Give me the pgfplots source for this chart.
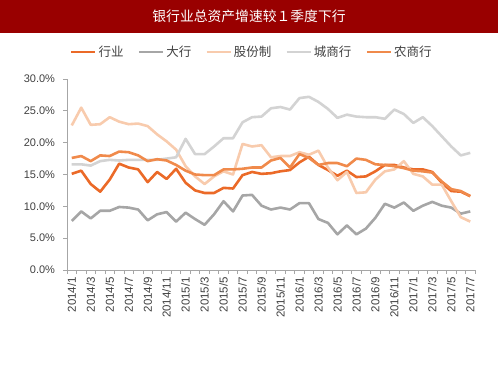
\documentclass[border=0pt]{standalone}
\usepackage{pgfplots}
\pgfplotsset{compat=1.18}
\usepackage{pgfplotstable}
\usepackage{fontspec}
\setmainfont{Liberation Sans}
\newfontfamily\cjk{Noto Sans CJK SC}
\definecolor{titlered}{HTML}{990000}
\definecolor{chy}{HTML}{EB6A28}
\definecolor{cdh}{HTML}{A6A6A6}
\definecolor{cgf}{HTML}{F8CBAD}
\definecolor{ccs}{HTML}{D3D3D3}
\definecolor{cns}{HTML}{F08A4B}
\definecolor{axgray}{HTML}{A6A6A6}
\definecolor{txt}{HTML}{404040}

\pgfplotstableread{
i hy dh gf cs ns
0 15.1 7.7 22.7 16.6 17.6
1 15.6 9.2 25.5 16.6 17.9
2 13.5 8.1 22.8 16.4 17.1
3 12.3 9.3 22.9 17.1 18.0
4 14.2 9.3 24.0 17.3 17.9
5 16.7 9.9 23.3 17.2 18.6
6 16.1 9.8 22.9 17.3 18.5
7 15.8 9.5 23.0 17.3 18.0
8 13.8 7.8 22.6 17.3 17.1
9 15.4 8.75 21.3 17.3 17.4
10 14.3 9.1 20.2 17.5 17.2
11 15.9 7.6 18.9 17.7 16.5
12 13.7 9.0 16.3 20.6 15.6
13 12.5 8.0 14.7 18.2 15.0
14 12.1 7.1 13.5 18.2 14.9
15 12.1 8.75 14.7 19.4 14.9
16 12.9 10.8 15.5 20.7 15.8
17 12.8 9.2 15.0 20.7 15.8
18 14.9 11.7 19.8 23.2 15.9
19 15.4 11.8 19.4 24.0 16.1
20 15.1 10.1 19.6 24.1 16.1
21 15.2 9.5 17.7 25.4 17.2
22 15.5 9.8 17.9 25.6 17.6
23 15.7 9.5 17.9 25.2 16.1
24 16.9 10.5 18.5 27.0 18.2
25 17.8 10.5 18.1 27.2 17.6
26 16.5 8.0 18.75 26.4 16.5
27 15.7 7.4 16.1 25.3 16.8
28 14.8 5.6 14.1 23.9 16.8
29 15.6 7.0 15.4 24.4 16.3
30 14.6 5.6 12.1 24.1 17.5
31 14.7 6.5 12.2 24.0 17.3
32 15.5 8.2 14.2 24.0 16.6
33 16.5 10.4 15.5 23.75 16.5
34 16.5 9.8 15.8 25.2 16.3
35 16.1 10.6 17.1 24.5 16.0
36 15.8 9.3 15.1 23.1 15.6
37 15.8 10.1 14.7 24.0 15.5
38 15.4 10.7 13.4 22.6 15.3
39 13.7 10.1 13.4 21.0 13.9
40 12.4 9.8 10.8 19.4 12.7
41 12.3 8.85 8.3 18.0 12.4
42 11.6 9.2 7.6 18.4 11.6
}\data

\begin{document}
\begin{tikzpicture}[x=1pt,y=1pt]
\useasboundingbox (0,0) rectangle (500,375);
\fill[titlered] (0,342) rectangle (498,375);
\node[text=white,font=\cjk\fontsize{13.8}{16}\selectfont] at (249,358.5) {银行业总资产增速较１季度下行};
\begin{axis}[
  at={(67pt,105pt)}, anchor=south west,
  scale only axis, width=408pt, height=191pt,
  xmin=-0.5, xmax=42.5, ymin=0, ymax=30,
  axis x line*=bottom, axis y line*=left,
  axis line style={axgray, line width=0.9pt, -},
  xtick={0,2,...,42},
  xticklabels={2014/1,2014/3,2014/5,2014/7,2014/9,2014/11,2015/1,2015/3,2015/5,2015/7,2015/9,2015/11,2016/1,2016/3,2016/5,2016/7,2016/9,2016/11,2017/1,2017/3,2017/5,2017/7},
  minor xtick={-0.5,0.5,...,42.5},
  major tick length=4pt,
  minor tick length=4pt,
  tick align=outside,
  major x tick style={draw=none},
  minor x tick style={draw=axgray, line width=0.8pt},
  x tick label style={rotate=90, anchor=east, font=\fontsize{11.5}{13}\selectfont, text=txt, inner sep=1pt},
  xticklabel shift=2pt,
  ytick={0,5,...,30},
  major y tick style={draw=axgray, line width=0.8pt},
  y tick label style={font=\fontsize{11}{13}\selectfont, text=txt},
  yticklabel shift=4.5pt,
  yticklabel={\pgfmathprintnumber[fixed,fixed zerofill,precision=1]{\tick}\%},
  /pgf/number format/assume math mode=true,
  legend columns=5,
  legend style={at={(0.453,1.141)}, anchor=center, draw=none, fill=none,
    font=\cjk\fontsize{12.5}{14}\selectfont, text=txt,
    /tikz/every even column/.append style={column sep=12pt},
    nodes={inner sep=2pt}},
  legend image code/.code={\draw[#1] (0pt,0pt) -- (24pt,0pt);},
  every axis plot/.append style={line width=2.6pt, line join=round, no markers},
]
\addplot[chy] table[x=i,y=hy]{\data};
\addlegendentry{行业}
\addplot[cdh] table[x=i,y=dh]{\data};
\addlegendentry{大行}
\addplot[cgf] table[x=i,y=gf]{\data};
\addlegendentry{股份制}
\addplot[ccs] table[x=i,y=cs]{\data};
\addlegendentry{城商行}
\addplot[cns] table[x=i,y=ns]{\data};
\addlegendentry{农商行}
\end{axis}
\end{tikzpicture}
\end{document}
